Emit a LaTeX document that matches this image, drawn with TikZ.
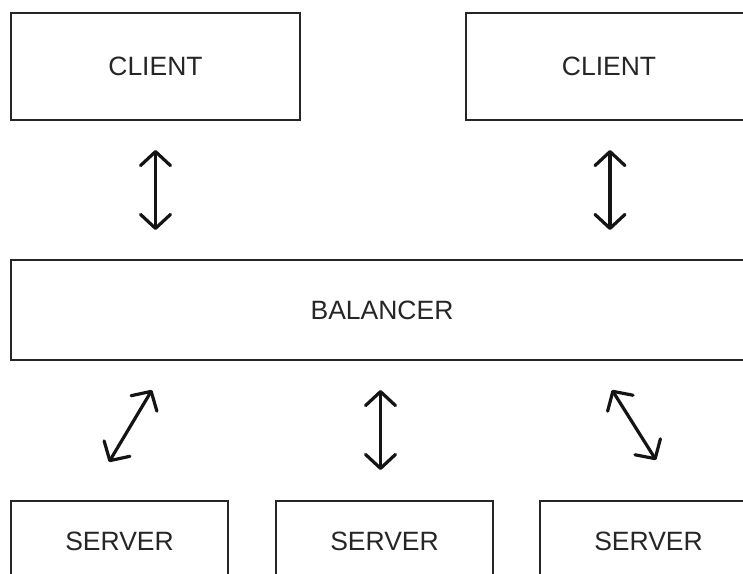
\documentclass[tikz,border=0pt]{standalone}
\usepackage{fontspec}
\setmainfont{Liberation Sans}
\usetikzlibrary{arrows.meta}
\begin{document}
\begin{tikzpicture}[x=1pt,y=-1pt,
  box/.style={draw=black!85,line width=2.3pt,inner sep=0pt,font=\fontsize{26.5}{26.5}\selectfont,text=black!85},
  link/.style={line width=3.2pt,line cap=round,line join=round,draw=black!92,
    {Straight Barb[length=14pt,width=30pt,line width=3.2pt,round]}-{Straight Barb[length=14pt,width=30pt,line width=3.2pt,round]}}]
\useasboundingbox (0,0) rectangle (743,573);
\clip (0,0) rectangle (743,573);
\fill[white] (0,0) rectangle (743,573);
% clients
\node[box,minimum width=289pt,minimum height=107pt] (c1) at (155.5,66.5) {CLIENT};
\node[box,minimum width=286pt,minimum height=107pt] (c2) at (609,66.5) {CLIENT};
% balancer
\node[box,minimum width=742pt,minimum height=100pt] (bal) at (382,310) {BALANCER};
% servers
\node[box,minimum width=217pt,minimum height=80pt] (s1) at (119.5,541) {SERVER};
\node[box,minimum width=217pt,minimum height=80pt] (s2) at (384.5,541) {SERVER};
\node[box,minimum width=217pt,minimum height=80pt] (s3) at (648.5,541) {SERVER};
% arrow end points
\coordinate (a1t) at (155.5,150);
\coordinate (a1b) at (155.5,230);
\coordinate (a2t) at (610,150);
\coordinate (a2b) at (610,230);
\coordinate (b1t) at (152,390);
\coordinate (b1b) at (109,462);
\coordinate (b2t) at (380.5,390);
\coordinate (b2b) at (380.5,470);
\coordinate (b3t) at (612,390);
\coordinate (b3b) at (656,460);
\draw[link] (a1t) -- (a1b);
\draw[link] (a2t) -- (a2b);
\draw[link] (b1t) -- (b1b);
\draw[link] (b2t) -- (b2b);
\draw[link] (b3t) -- (b3b);
\end{tikzpicture}
\end{document}
